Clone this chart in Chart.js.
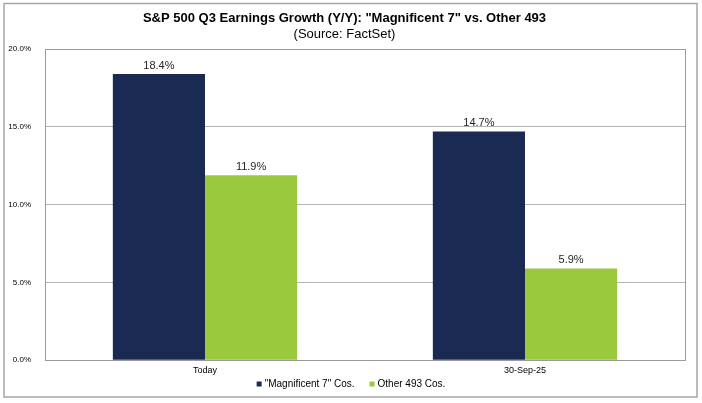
<!DOCTYPE html>
<html>
<head>
<meta charset="utf-8">
<script src="https://cdn.jsdelivr.net/npm/chart.js@4"></script>
<style>
  html, body { margin: 0; padding: 0; background: #fff; }
  #wrap { width: 702px; height: 403px; }
</style>
</head>
<body>
<div id="wrap"><canvas id="chart" width="702" height="403"></canvas></div>
<script>
// chart data
const categories = ["Today", "30-Sep-25"];
const mag7 = [18.4, 14.7];
const other493 = [11.9, 5.9];
const yTicks = [0, 5, 10, 15, 20];

const FONT = "'Liberation Sans', Arial, sans-serif";

// gray frame round the whole picture and round the plot area, value labels, legend
const framePlugin = {
  id: "frame",
  beforeDraw(chart) {
    const ctx = chart.ctx;
    ctx.save();
    ctx.fillStyle = "#fff";
    ctx.fillRect(0, 0, chart.width, chart.height);
    ctx.strokeStyle = "#a6a6a6";
    ctx.lineWidth = 1.5;
    ctx.strokeRect(4, 3.5, 693, 393.5);
    ctx.restore();
  },
  afterDatasetsDraw(chart) {
    const ctx = chart.ctx;
    const a = chart.chartArea;
    ctx.save();
    ctx.strokeStyle = "#9a9a9a";
    ctx.lineWidth = 1;
    ctx.strokeRect(Math.round(a.left) + 0.5, Math.round(a.top) + 0.5,
      Math.round(a.right - a.left), Math.round(a.bottom - a.top));
    // value labels above bars
    ctx.fillStyle = "#262626";
    ctx.font = "11px " + FONT;
    ctx.textAlign = "center";
    ctx.textBaseline = "bottom";
    chart.data.datasets.forEach((ds, i) => {
      chart.getDatasetMeta(i).data.forEach((bar, j) => {
        ctx.fillText(ds.data[j].toFixed(1) + "%", bar.x, bar.y - 3);
      });
    });
    // legend below the category labels, centred on the picture
    ctx.font = "10px " + FONT;
    ctx.textAlign = "left";
    ctx.textBaseline = "middle";
    const box = 5, gapText = 3, gapItem = 15;
    const widths = chart.data.datasets.map(ds => box + gapText + ctx.measureText(ds.label).width);
    const total = widths.reduce((s, w) => s + w, 0) + gapItem * (widths.length - 1);
    let x = chart.width / 2 - total / 2;
    const y = 384;
    chart.data.datasets.forEach((ds, i) => {
      ctx.fillStyle = ds.backgroundColor;
      ctx.fillRect(x, y - box / 2, box, box);
      ctx.fillStyle = "#000";
      ctx.fillText(ds.label, x + box + gapText, y);
      x += widths[i] + gapItem;
    });
    ctx.restore();
  }
};

new Chart(document.getElementById("chart"), {
  type: "bar",
  data: {
    labels: categories,
    datasets: [
      {
        label: "\"Magnificent 7\" Cos.",
        data: mag7,
        backgroundColor: "#1b2a52",
        borderWidth: 0
      },
      {
        label: "Other 493 Cos.",
        data: other493,
        backgroundColor: "#9bc93d",
        borderWidth: 0
      }
    ]
  },
  options: {
    responsive: false,
    animation: false,
    devicePixelRatio: 1,
    layout: { padding: { left: 4, right: 17, top: 9, bottom: 22 } },
    datasets: {
      bar: { categoryPercentage: 0.576, barPercentage: 1.0 }
    },
    plugins: {
      title: {
        display: true,
        text: "S&P 500 Q3 Earnings Growth (Y/Y): \"Magnificent 7\" vs. Other 493",
        color: "#000",
        font: { family: FONT, size: 13, weight: "bold" },
        padding: { top: 2, bottom: 0 }
      },
      subtitle: {
        display: true,
        text: "(Source: FactSet)",
        color: "#000",
        font: { family: FONT, size: 13 },
        padding: { top: 0, bottom: 7 }
      },
      legend: { display: false },
      tooltip: { enabled: false }
    },
    scales: {
      x: {
        grid: { display: false, drawTicks: false },
        border: { display: false },
        ticks: {
          color: "#000",
          font: { family: FONT, size: 9 },
          padding: 5
        }
      },
      y: {
        min: 0,
        max: 20,
        afterBuildTicks(scale) {
          scale.ticks = yTicks.map(v => ({ value: v }));
        },
        afterFit(scale) { scale.width = 41; },
        grid: { color: "#b4b4b4", lineWidth: 1, drawTicks: false },
        border: { display: false },
        ticks: {
          color: "#000",
          font: { family: FONT, size: 8 },
          padding: 14,
          callback: v => v.toFixed(1) + "%"
        }
      }
    }
  },
  plugins: [framePlugin]
});
</script>
</body>
</html>
